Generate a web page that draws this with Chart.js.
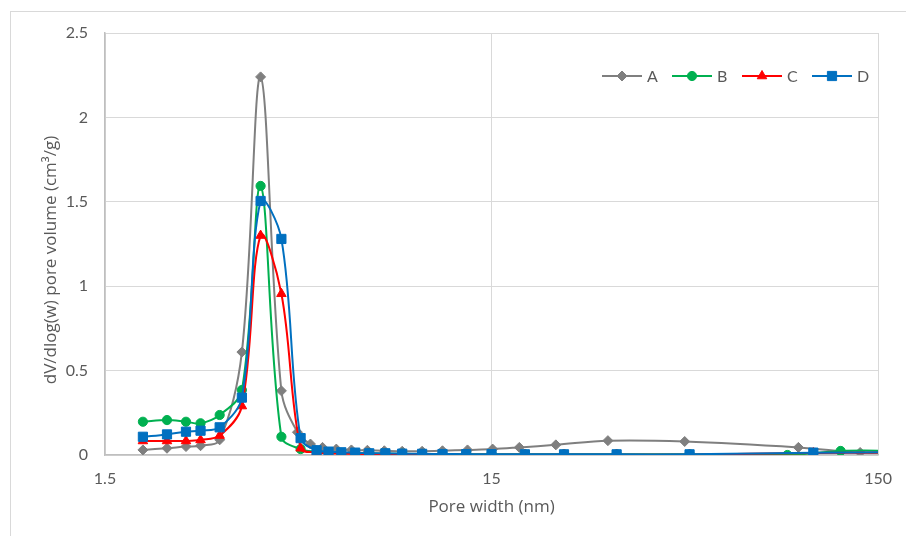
<!DOCTYPE html>
<html><head><meta charset="utf-8">
<script src="https://cdn.jsdelivr.net/npm/chart.js@4.4.1/dist/chart.umd.min.js"></script>
<style>
html,body{margin:0;padding:0;background:#fff;overflow:hidden;width:906px;height:536px}
#frame{position:absolute;left:10px;top:11px;width:1000px;height:1000px;border:1px solid #d9d9d9}
#wrap{position:absolute;left:0;top:0;width:906px;height:536px}
</style></head><body>
<div id="frame"></div>
<div id="wrap"><canvas id="c" width="906" height="536"></canvas></div>
<script>
// ---- data (pore width in nm, dV/dlog(w) in cm3/g) ----
const seriesNames = ['A', 'B', 'C', 'D'];
const xA = [1.88, 2.17, 2.43, 2.65, 2.97, 3.39, 3.79, 4.29, 4.72, 5.10, 5.48, 5.95, 6.51, 7.16, 7.92, 8.81, 9.92, 11.2, 13.0, 15.1, 17.7, 22.0, 30.0, 47.4, 93.3, 134.8, 170];
const yA = [0.03, 0.04, 0.05, 0.055, 0.09, 0.61, 2.24, 0.38, 0.135, 0.065, 0.045, 0.035, 0.03, 0.028, 0.025, 0.022, 0.022, 0.025, 0.03, 0.035, 0.045, 0.06, 0.085, 0.08, 0.045, 0.015, 0.01];
const xB = [1.88, 2.17, 2.43, 2.65, 2.97, 3.39, 3.79, 4.29, 4.81, 5.29, 5.68, 6.13, 6.66, 7.24, 7.97, 8.81, 9.92, 11.2, 12.9, 15.0, 18.3, 23.1, 31.6, 48.8, 87.4, 120, 170];
const yB = [0.197, 0.207, 0.197, 0.188, 0.237, 0.385, 1.594, 0.108, 0.035, 0.02, 0.015, 0.012, 0.01, 0.01, 0.008, 0.007, 0.006, 0.005, 0.005, 0.005, 0.004, 0.004, 0.004, 0.004, 0.0, 0.024, 0.025];
const xC = [1.88, 2.17, 2.43, 2.65, 2.97, 3.39, 3.79, 4.29, 4.81, 5.29, 5.68, 6.13, 6.66, 7.24, 7.97, 8.81, 9.92, 11.2, 12.9, 15.0, 18.3, 23.1, 31.6, 48.8, 102, 170];
const yC = [0.083, 0.083, 0.083, 0.089, 0.115, 0.29, 1.30, 0.955, 0.04, 0.015, 0.01, 0.008, 0.006, 0.005, 0.004, 0.003, 0.003, 0.002, 0.002, 0.002, 0.002, 0.002, 0.002, 0.002, 0.012, 0.015];
const xD = [1.88, 2.17, 2.43, 2.65, 2.97, 3.39, 3.79, 4.29, 4.81, 5.29, 5.68, 6.13, 6.66, 7.24, 7.97, 8.81, 9.92, 11.2, 12.9, 15.0, 18.3, 23.1, 31.6, 48.8, 102, 170];
const yD = [0.108, 0.122, 0.138, 0.144, 0.164, 0.34, 1.505, 1.28, 0.10, 0.028, 0.02, 0.016, 0.014, 0.01, 0.01, 0.008, 0.007, 0.006, 0.005, 0.005, 0.004, 0.004, 0.004, 0.004, 0.014, 0.016];
const xTicks = [1.5, 15, 150];
const yTicks = [0, 0.5, 1, 1.5, 2, 2.5];
const xTitle = 'Pore width (nm)';
const yTitle = 'dV/dlog(w) pore volume (cm³/g)';

const colors = ['#7f7f7f', '#00b050', '#ff0000', '#0070c0'];
const styles = ['rectRot', 'circle', 'triangle', 'rect'];
const radii = [5, 4.6, 5.5, 6.5];
const xs = [xA, xB, xC, xD];
const ys = [yA, yB, yC, yD];
const FONT = 'Lato, "Open Sans", sans-serif';
const TFONT = '"Open Sans", Lato, sans-serif';
const TXT = '#595959';

const datasets = seriesNames.map((n, i) => ({
  label: n,
  data: xs[i].map((x, j) => ({x: x, y: ys[i][j]})),
  borderColor: colors[i],
  backgroundColor: colors[i],
  pointBackgroundColor: colors[i],
  pointBorderColor: colors[i],
  pointBorderWidth: 1,
  pointStyle: styles[i],
  pointRadius: radii[i],
  pointHoverRadius: radii[i],
  borderWidth: 2,
  tension: 0.35,
  fill: false,
  order: 4 - i
}));

const extras = {
  id: 'extras',
  afterDraw(chart) {
    const ctx = chart.ctx;
    const ca = chart.chartArea;
    ctx.save();
    // legend
    const lx0 = 602, ly = 76, step = 70;
    ctx.font = '16px ' + FONT;
    ctx.textBaseline = 'middle';
    ctx.textAlign = 'left';
    seriesNames.forEach((n, i) => {
      const x = lx0 + i * step;
      ctx.strokeStyle = colors[i];
      ctx.lineWidth = 2;
      ctx.beginPath(); ctx.moveTo(x, ly); ctx.lineTo(x + 40, ly); ctx.stroke();
      ctx.fillStyle = colors[i];
      ctx.lineWidth = 1;
      Chart.helpers.drawPoint(ctx, {pointStyle: styles[i], radius: radii[i], rotation: 0, borderWidth: 1}, x + 20, ly);
      ctx.fillStyle = TXT;
      ctx.fillText(n, x + 45, ly + 1);
    });
    // axis titles
    ctx.fillStyle = TXT;
    ctx.textAlign = 'center';
    ctx.textBaseline = 'middle';
    ctx.font = '17px ' + TFONT;
    ctx.fillText(xTitle, (ca.left + ca.right) / 2, 507);
    ctx.font = '17px ' + TFONT;
    ctx.translate(51, 260);
    ctx.rotate(-Math.PI / 2);
    ctx.fillText(yTitle, 0, 0);
    ctx.restore();
  }
};

new Chart(document.getElementById('c'), {
  type: 'line',
  data: {datasets},
  options: {
    responsive: false,
    animation: false,
    devicePixelRatio: 1,
    layout: {padding: {left: 0, top: 33, right: 26, bottom: 0}},
    plugins: {legend: {display: false}, tooltip: {enabled: false}},
    scales: {
      x: {
        type: 'logarithmic', min: 1.5, max: 150, position: 'bottom',
        afterBuildTicks: s => { s.ticks = xTicks.map(v => ({value: v, major: true})); },
        afterFit: s => { s.height = 81; },
        ticks: {callback: v => String(v), color: TXT, font: {family: FONT, size: 16}, padding: 14, maxRotation: 0, autoSkip: false},
        grid: {color: '#d9d9d9', lineWidth: 1, drawTicks: false},
        border: {color: '#bfbfbf', width: 1.5}
      },
      y: {
        type: 'linear', min: 0, max: 2.5,
        afterBuildTicks: s => { s.ticks = yTicks.map(v => ({value: v})); },
        afterFit: s => { s.width = 105; },
        ticks: {callback: v => String(v), color: TXT, font: {family: FONT, size: 16}, padding: 17},
        grid: {color: '#d9d9d9', lineWidth: 1, drawTicks: false},
        border: {color: '#bfbfbf', width: 1.5}
      }
    }
  },
  plugins: [extras]
});
</script>
</body></html>
